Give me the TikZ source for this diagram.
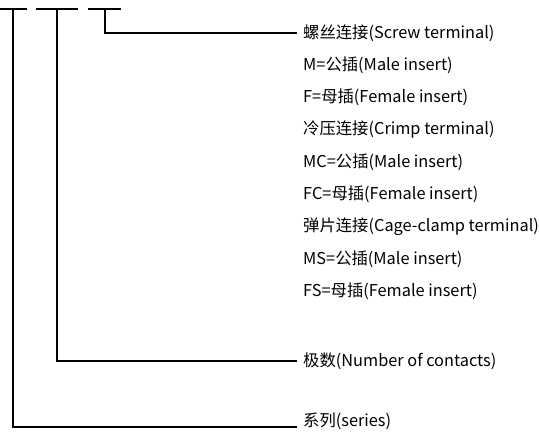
\documentclass[tikz,border=0pt]{standalone}
\usepackage{fontspec}
\setmainfont{Noto Sans CJK SC}
\usetikzlibrary{positioning}
\tikzset{>=stealth}
\tikzset{
  lbl/.style={anchor=west, inner xsep=6bp, inner ysep=0pt, font=\fontsize{16.4}{18}\selectfont},
  wire/.style={line width=1.3bp},
  bar/.style={line width=1.3bp},
}

\begin{document}
\begin{tikzpicture}[x=1bp,y=-1bp]
\useasboundingbox (0,0) rectangle (539,432);
% tops of the code
\coordinate (tA) at (13,9);
\coordinate (tB) at (57,9);
\coordinate (tC) at (105,9);
\draw[bar] ([xshift=-13bp]tA) -- ([xshift=14bp]tA);
\draw[bar] ([xshift=-21bp]tB) -- ([xshift=21bp]tB);
\draw[bar] ([xshift=-17bp]tC) -- ([xshift=16bp]tC);
% labels
\node[lbl] (scr) at (297,33) {螺丝连接(Screw terminal)};
\foreach \t [count=\i] in {M=公插(Male insert), F=母插(Female insert), 冷压连接(Crimp terminal), MC=公插(Male insert), FC=母插(Female insert), 弹片连接(Cage-clamp terminal), MS=公插(Male insert), FS=母插(Female insert)}
  \node[lbl] (row\i) at (297,{33+32.3*\i}) {\t};
\node[lbl] (poles) at (297,361) {极数(Number of contacts)};
\node[lbl] (series) at (297,421.5) {系列(series)};
% leaders
\draw[wire] (tC) |- (scr.west);
\draw[wire] (tB) |- (poles.west);
\draw[wire] (tA) |- ([yshift=-5.5bp]series.west);
\end{tikzpicture}
\end{document}
